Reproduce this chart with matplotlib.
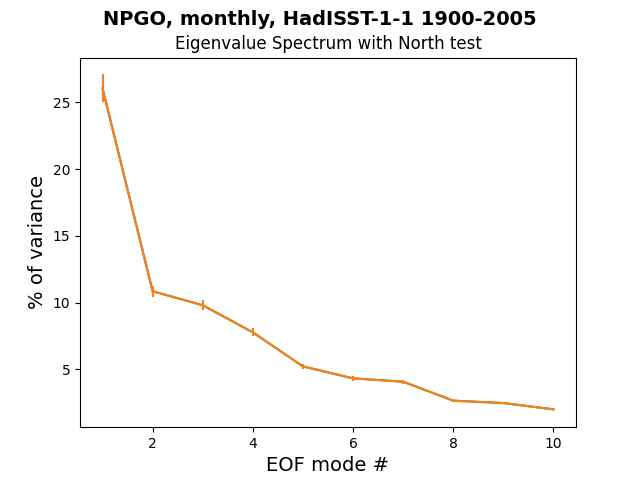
import matplotlib
matplotlib.use('Agg')
import matplotlib.pyplot as plt
import numpy as np

modes = np.arange(1, 11)
variance = [26.05, 10.85, 9.8, 7.77, 5.22, 4.32, 4.07, 2.65, 2.47, 2.0]
north_err = [1.05, 0.43, 0.39, 0.31, 0.21, 0.17, 0.16, 0.11, 0.10, 0.08]

fig = plt.figure(figsize=(6.4, 4.8), dpi=100)
ax = fig.add_subplot(1, 1, 1)
ax.plot(modes, variance)
ax.errorbar(modes, variance, yerr=north_err)
ax.set_title('Eigenvalue Spectrum with North test')
ax.set_xlabel('EOF mode #', fontsize=14)
ax.set_ylabel('% of variance', fontsize=14)
fig.suptitle('NPGO, monthly, HadISST-1-1 1900-2005', fontsize=14, fontweight='bold')
fig.savefig('out.png')
